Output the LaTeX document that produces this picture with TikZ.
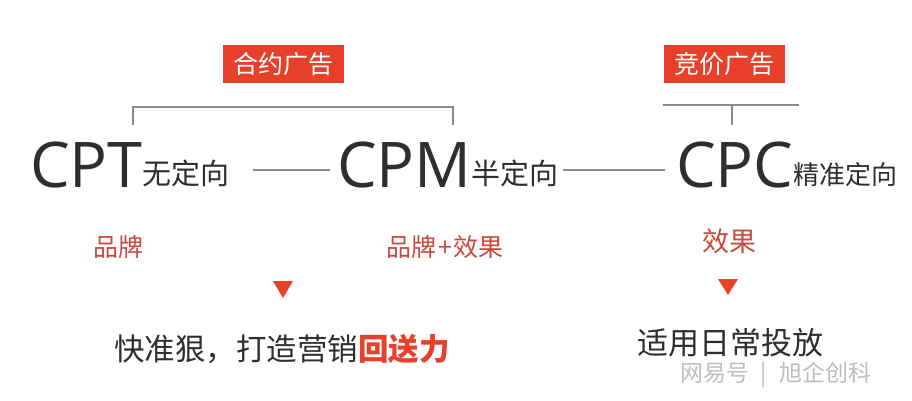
\documentclass[tikz,border=0pt]{standalone}
\usepackage{fontspec}
\setmainfont{Noto Sans CJK SC}
\newfontfamily\cjk{Noto Sans CJK SC}
\newfontfamily\latn{Open Sans}
\definecolor{boxred}{HTML}{E8402A}
\definecolor{labred}{HTML}{C8483C}
\definecolor{darktext}{HTML}{2E2E2E}
\definecolor{linegray}{HTML}{8A8A8A}
\definecolor{wmgray}{HTML}{BDBDBD}
\begin{document}
\begin{tikzpicture}[x=1pt,y=-1pt,
  every node/.style={inner sep=0pt,outer sep=0pt},
  big/.style={anchor=base west,text=darktext,font=\latn\fontsize{63}{63}\selectfont},
  sub/.style={anchor=base west,text=darktext,font=\cjk\fontsize{29}{29}\selectfont},
  tag/.style={fill=boxred,text=white,minimum width=121pt,minimum height=38pt,font=\cjk\fontsize{25}{25}\selectfont},
  lab/.style={anchor=base west,text=labred,font=\cjk\fontsize{25}{25}\selectfont},
  conn/.style={draw=linegray,line width=1.1pt},
  tri/.style={fill=boxred,draw=none},
  note/.style={anchor=base west,text=darktext,font=\cjk\fontsize{30.5}{31}\selectfont}]
\useasboundingbox[fill=white] (0,0) rectangle (912,400);
% tags
\node[tag] (hy) at (283,64) {合约广告};
\node[tag] (jj) at (724,64) {竞价广告};
% main terms
\node[big] (cpt) at (30,187) {CPT};
\node[sub] (wdx) at (142,184) {无定向};
\node[big] (cpm) at (337,187) {CPM};
\node[sub] (bdx) at (471,184) {半定向};
\node[big] (cpc) at (676,187) {CPC};
\node[sub,font=\cjk\fontsize{26}{26}\selectfont] (jdx) at (793,184) {精准定向};
% brackets
\coordinate (b1l) at (133,125);
\coordinate (b1r) at (453,125);
\draw[conn] (b1l) -- (133,107) -- (453,107) -- (b1r);
\coordinate (b2l) at (663,105);
\coordinate (b2r) at (799,105);
\coordinate (b2m) at (732,105);
\coordinate (b2d) at (732,125);
\draw[conn] (b2l) -- (b2r);
\draw[conn] (b2m) -- (b2d);
% connectors
\coordinate (l1a) at (253,170);
\coordinate (l1b) at (330,170);
\coordinate (l2a) at (563,170);
\coordinate (l2b) at (665,170);
\draw[conn] (l1a) -- (l1b);
\draw[conn] (l2a) -- (l2b);
% labels
\node[lab] (pp) at (93,256) {品牌};
\node[lab] (ppxg) at (386,256) {品牌\hspace{2pt}+\hspace{2pt}效果};
\node[lab,font=\cjk\fontsize{27}{27}\selectfont] (xg) at (702,251) {效果};
% triangles
\path[tri] (273,281) -- (293,281) -- (283,298) -- cycle;
\path[tri] (718,279) -- (738,279) -- (728,295) -- cycle;
% bottom notes
\node[note] (n1) at (114,360) {快准狠，打造营销\textcolor{boxred}{\bfseries 回送力}};
\node[note,font=\cjk\fontsize{31}{31}\selectfont] (n2) at (637,354) {适用日常投放};
% watermark
\node[anchor=base west,text=wmgray,font=\cjk\fontsize{23}{23}\selectfont] (wm) at (680,381) {网易号\hspace{12pt}|\hspace{12pt}旭企创科};
\end{tikzpicture}
\end{document}
